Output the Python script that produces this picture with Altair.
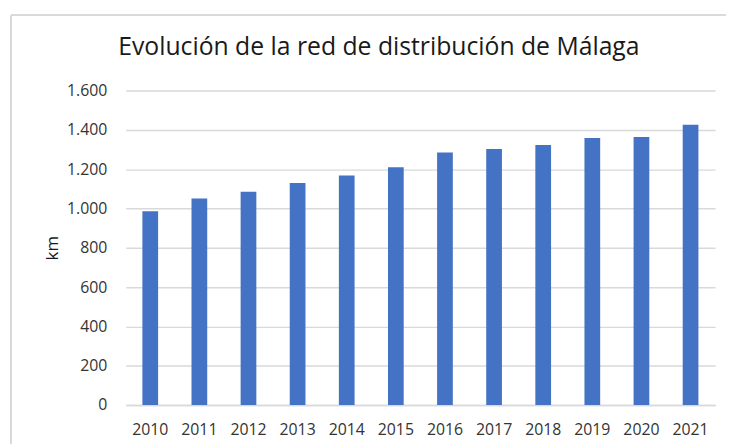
import altair as alt
import pandas as pd

years = ["2010", "2011", "2012", "2013", "2014", "2015", "2016", "2017", "2018", "2019", "2020", "2021"]
km = [986, 1051, 1085, 1130, 1168, 1209, 1285, 1303, 1323, 1359, 1364, 1426]
y_ticks = [0, 200, 400, 600, 800, 1000, 1200, 1400, 1600]

df = pd.DataFrame({"year": years, "km": km})

FONT = "Open Sans"
GRID = "#d9d9d9"

bars = alt.Chart(df).mark_bar(color="#4472C4").encode(
    x=alt.X("year:N", sort=years,
            scale=alt.Scale(paddingInner=0.68, paddingOuter=0.34),
            axis=alt.Axis(title=None, labelAngle=0, labelFont=FONT, labelFontSize=16,
                          labelColor="#333333", labelPadding=17, ticks=False,
                          domainColor=GRID, domainWidth=1.5)),
    y=alt.Y("km:Q", scale=alt.Scale(domain=[0, 1600], nice=False),
            axis=alt.Axis(title="km", values=y_ticks, titleFont=FONT, titleFontSize=17,
                          titleFontWeight="normal", titleColor="#1a1a1a", titlePadding=5,
                          labelFont=FONT, labelFontSize=16, labelColor="#333333",
                          labelPadding=19, ticks=False, domain=False,
                          gridColor=GRID, gridWidth=1.5,
                          labelExpr="replace(format(datum.value, ','), ',', '.')")),
)

border_left = alt.Chart(df).mark_rule(color=GRID, strokeWidth=1.5).encode(
    x=alt.value(-116), y=alt.value(-76), y2=alt.value(600))
border_top = alt.Chart(df).mark_rule(color=GRID, strokeWidth=1.5).encode(
    y=alt.value(-76), x=alt.value(-116), x2=alt.value(900))

chart = alt.layer(border_left, border_top, bars).properties(
    width=596, height=318,
    autosize=alt.AutoSizeParams(type="none"),
    padding={"left": 119, "top": 81, "right": 11, "bottom": 37},
    title=alt.TitleParams("Evolución de la red de distribución de Málaga",
                          font=FONT, fontSize=25, fontWeight="normal", color="#1a1a1a",
                          anchor="middle", dx=-42, offset=-66, baseline="alphabetic"),
).configure_view(stroke=None)

chart.save("out.html", embed_options={"renderer": "svg", "actions": False})
